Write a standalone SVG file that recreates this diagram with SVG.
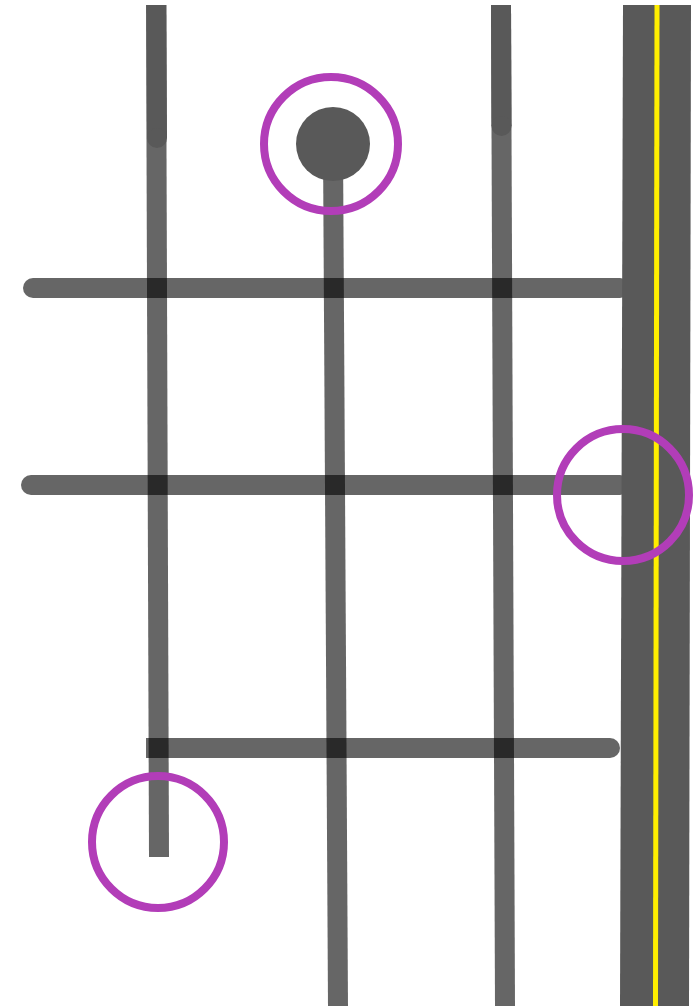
<svg xmlns="http://www.w3.org/2000/svg" width="697" height="1006" viewBox="0 0 697 1006">
<style>
.road{stroke:#000;stroke-opacity:0.6;stroke-width:20;fill:none}
.cap{stroke:#595959;stroke-width:20;fill:none}
.ring{fill:none;stroke:#b23db8;stroke-width:8}
</style>
<rect width="697" height="1006" fill="#fff"/>
<g id="connectors">
<line class="road" x1="156" y1="5" x2="159" y2="857"/>
<line class="road" x1="333" y1="144" x2="338" y2="1006"/>
<line class="road" x1="501" y1="5" x2="505" y2="1006"/>
<line class="road" x1="33" y1="288" x2="620" y2="288" stroke-linecap="round"/>
<line class="road" x1="31" y1="485" x2="620" y2="485" stroke-linecap="round"/>
<path class="road" d="M146 748 H610" />
<path d="M610 748 m0 -10 a10 10 0 0 1 0 20 z" fill="#000" fill-opacity="0.6"/>
<line class="cap" x1="156.5" y1="5" x2="157" y2="138"/>
<circle cx="157" cy="138" r="10" fill="#595959"/>
<line class="cap" x1="501" y1="5" x2="501.5" y2="126"/>
<circle cx="501.5" cy="126" r="10" fill="#595959"/>
</g>
<g id="main-road">
<polygon points="623,5 691,5 689,1006 620,1006" fill="#595959"/>
<line x1="657" y1="5" x2="655.5" y2="1006" stroke="#ffee00" stroke-width="5"/>
</g>
<g id="dead-end">
<circle cx="333" cy="144" r="37" fill="#595959"/>
</g>
<g id="marker-1"><circle class="ring" cx="331" cy="144" r="67"/></g>
<g id="marker-2"><circle class="ring" cx="623" cy="495" r="66"/></g>
<g id="marker-3"><circle class="ring" cx="158" cy="842" r="66"/></g>
</svg>
